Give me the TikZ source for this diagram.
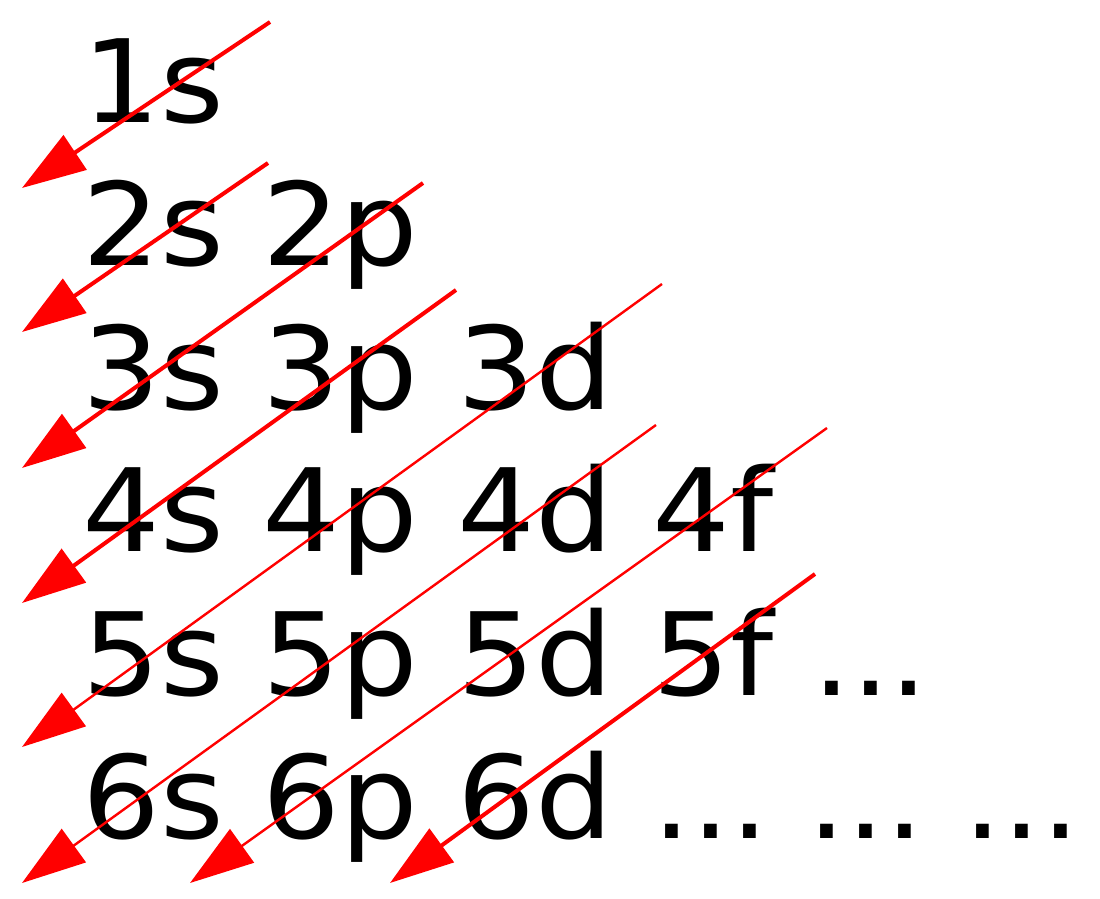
\documentclass[tikz,border=0pt]{standalone}
\usepackage{fontspec}
\setmainfont{DejaVu Sans}[FakeStretch=1.065]
\usetikzlibrary{arrows.meta}
\frenchspacing

\begin{document}
\begin{tikzpicture}[x=0.5pt,y=-0.5pt,
		orbital/.style={anchor=base west,inner sep=0pt,font=\fontsize{57.5pt}{57.5pt}\selectfont},
		fill order/.style={draw=red,line width=#1,-{Triangle[length=32pt,width=20.5pt]}},
		fill order/.default=2pt]
		\useasboundingbox (0,0) rectangle (1100,899);
		\node[orbital] (r1) at (82,123) {1s};
		\node[orbital] (r2) at (82,266) {2s 2p};
		\node[orbital] (r3) at (82,409) {3s 3p 3d};
		\node[orbital] (r4) at (82,552) {4s 4p 4d 4f};
		\node[orbital] (r5) at (82,695) {5s 5p 5d 5f ...};
		\node[orbital] (r6) at (82,838) {6s 6p 6d ... ... ...};
		
		\coordinate (t1) at (270,22);   \coordinate (h1) at (22,188);
		\coordinate (t2) at (268,163);  \coordinate (h2) at (22,332);
		\coordinate (t3) at (423,183);  \coordinate (h3) at (22,468);
		\coordinate (t4) at (456,290);  \coordinate (h4) at (22,603);
		\coordinate (t5) at (662,284);  \coordinate (h5) at (22,747);
		\coordinate (t6) at (656,425);  \coordinate (h6) at (22,883);
		\coordinate (t7) at (827,428);  \coordinate (h7) at (190,883);
		\coordinate (t8) at (815,574);  \coordinate (h8) at (390,883);
		
		\draw[fill order] (t1) to (h1);
		\draw[fill order] (t2) to (h2);
		\draw[fill order] (t3) to (h3);
		\draw[fill order] (t4) to (h4);
		\draw[fill order=1.2pt] (t5) to (h5);
		\draw[fill order=1.2pt] (t6) to (h6);
		\draw[fill order=1.2pt] (t7) to (h7);
		\draw[fill order] (t8) to (h8);
	\end{tikzpicture}
\end{document}
